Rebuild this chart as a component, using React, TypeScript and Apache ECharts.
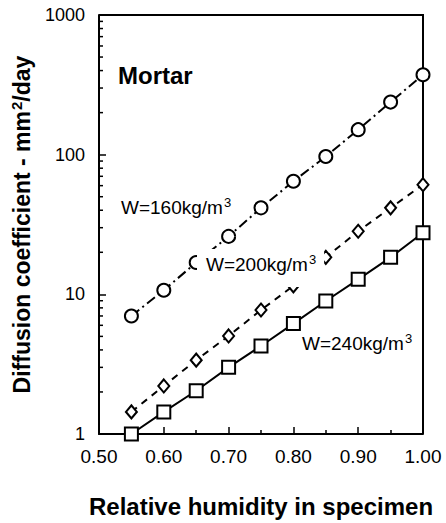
import React, { useEffect, useRef } from "react";
import * as echarts from "echarts";

const humidity = [0.55, 0.6, 0.65, 0.7, 0.75, 0.8, 0.85, 0.9, 0.95, 1.0];
const w160 = [7.0, 10.7, 16.9, 26, 41.6, 64.5, 97, 151, 238, 373];
const w200 = [1.44, 2.21, 3.38, 5.04, 7.72, 11.5, 18.4, 28.3, 41.6, 61];
const w240 = [1.0, 1.44, 2.04, 3.0, 4.27, 6.17, 8.96, 12.8, 18.4, 27.6];
const yMinorTicks = [2, 3, 4, 5, 6, 7, 8, 9, 20, 30, 40, 50, 60, 70, 80, 90, 200, 300, 400, 500, 600, 700, 800, 900];
const xRange = [0.5, 1.0];
const yRange = [1, 1000];
const xTickFormat = (v: number) => v.toFixed(2);

const FONT = "'Liberation Sans', Arial, sans-serif";

export default function App() {
  const ref = useRef<HTMLDivElement>(null);
  useEffect(() => {
    if (!ref.current) return;
    const chart = echarts.init(ref.current, undefined, { renderer: "svg" });
    const pts = (ys: number[]) => humidity.map((x, i) => [x, ys[i]]);
    const baseLine = {
      type: "line" as const,
      clip: false,
      z: 5,
      itemStyle: { color: "#fff", borderColor: "#000", borderWidth: 2 },
    };
    const supLabel = (id: string, x: number, y: number, main: string, extra: any = {}) => ({
      id,
      type: "text",
      x,
      y,
      z: 100,
      style: {
        text: `{a|${main}}{s|3}`,
        fill: "#000",
        font: `19px ${FONT}`,
        align: "left",
        verticalAlign: "middle",
        textAlign: "left",
        textVerticalAlign: "middle",
        rich: {
          a: { fontSize: 19, fontFamily: FONT, fill: "#000", color: "#000", lineHeight: 22 },
          s: { fontSize: 13, fontFamily: FONT, fill: "#000", color: "#000", verticalAlign: "top", lineHeight: 22, padding: [0, 0, 8, 1] },
        },
        ...extra,
      },
    });
    chart.setOption({
      animation: false,
      backgroundColor: "#fff",
      grid: { left: 99, right: 23, top: 15, bottom: 88 },
      xAxis: {
        type: "value",
        min: xRange[0],
        max: xRange[1],
        interval: 0.1,
        name: "Relative humidity in specimen",
        nameLocation: "middle",
        nameGap: 60,
        nameTextStyle: { fontSize: 24, fontWeight: "bold", color: "#000", fontFamily: FONT },
        axisLine: { onZero: false, lineStyle: { color: "#000", width: 2 } },
        axisTick: { inside: true, length: 7, lineStyle: { color: "#000", width: 1.5 } },
        minorTick: { show: true, splitNumber: 2, length: 4, lineStyle: { color: "#000", width: 1.5 } },
        splitLine: { show: false },
        minorSplitLine: { show: false },
        axisLabel: { formatter: xTickFormat, fontSize: 19, color: "#000", fontFamily: FONT, margin: 13 },
      },
      yAxis: {
        type: "log",
        logBase: 10,
        min: yRange[0],
        max: yRange[1],
        name: "{t|Diffusion coefficient - mm}{s|2}{t|/day}",
        nameLocation: "middle",
        nameGap: 62,
        nameTextStyle: {
          fontSize: 23,
          fontWeight: "bold",
          color: "#000",
          fontFamily: FONT,
          rich: {
            t: { fontSize: 23, fontWeight: "bold", color: "#000", fontFamily: FONT, lineHeight: 26 },
            s: { fontSize: 15, fontWeight: "bold", color: "#000", fontFamily: FONT, verticalAlign: "top", lineHeight: 26, padding: [0, 0, 10, 1] },
          },
        },
        axisLine: { show: true, onZero: false, lineStyle: { color: "#000", width: 2 } },
        axisTick: { show: true, inside: true, length: 7, lineStyle: { color: "#000", width: 1.5 } },
        splitLine: { show: false },
        axisLabel: { formatter: (v: number) => String(Math.round(v)), fontSize: 18, color: "#000", fontFamily: FONT, margin: 14 },
      },
      series: [
        {
          type: "custom",
          silent: true,
          clip: false,
          z: 1,
          data: yMinorTicks.map((v) => [xRange[0], v]),
          renderItem: (params: any, api: any) => {
            const c = api.coord([api.value(0), api.value(1)]);
            const tick = {
              type: "line",
              shape: { x1: c[0], y1: c[1], x2: c[0] + 4, y2: c[1] },
              style: { stroke: "#000", lineWidth: 1.5 },
            };
            if (params.dataIndex !== 0) return tick;
            const cs = params.coordSys;
            return {
              type: "group",
              children: [
                tick,
                {
                  type: "polyline",
                  shape: {
                    points: [
                      [cs.x, cs.y],
                      [cs.x + cs.width, cs.y],
                      [cs.x + cs.width, cs.y + cs.height],
                    ],
                  },
                  style: { stroke: "#000", lineWidth: 2, fill: null },
                },
              ],
            };
          },
        },
        {
          ...baseLine,
          name: "W=160",
          data: pts(w160),
          symbol: "circle",
          symbolSize: 13,
          lineStyle: { color: "#000", width: 2, type: [10, 4, 2, 4] },
        },
        {
          ...baseLine,
          name: "W=200",
          data: pts(w200),
          symbol: "diamond",
          symbolSize: [11, 13],
          lineStyle: { color: "#000", width: 2, type: [7, 6] },
        },
        {
          ...baseLine,
          name: "W=240",
          data: pts(w240),
          symbol: "rect",
          symbolSize: 13,
          lineStyle: { color: "#000", width: 2, type: "solid" },
        },
      ],
      graphic: [
        {
          id: "mortar",
          type: "text",
          x: 118,
          y: 75,
          z: 100,
          style: {
            text: "Mortar",
            fill: "#000",
            font: `bold 24px ${FONT}`,
            align: "left",
            verticalAlign: "middle",
            textAlign: "left",
            textVerticalAlign: "middle",
          },
        },
        supLabel("w160", 121, 207, "W=160kg/m"),
        supLabel("w200", 197, 268, "W=200kg/m", { backgroundColor: "#fff", padding: [4, 8, 12, 9] }),
        supLabel("w240", 302, 343, "W=240kg/m"),
      ],
    });
    return () => chart.dispose();
  }, []);
  return <div ref={ref} style={{ position: "absolute", left: 0, top: 0, width: 446, height: 523 }} />;
}
